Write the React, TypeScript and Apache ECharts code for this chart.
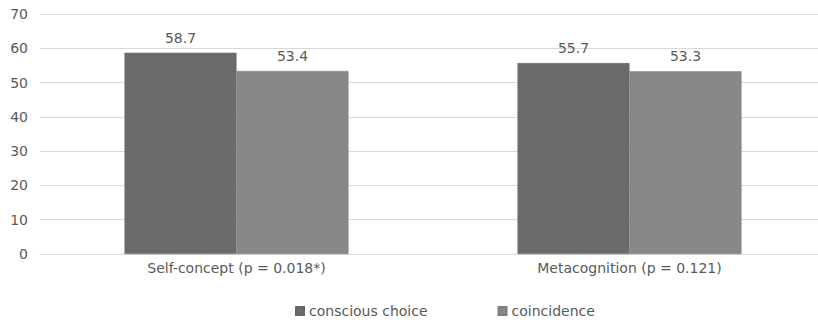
import React, { useEffect, useRef } from "react";
import * as echarts from "echarts";

const categories = ["Self-concept (p = 0.018*)", "Metacognition (p = 0.121)"];
const consciousChoice = [58.7, 55.7];
const coincidence = [53.4, 53.3];
const seriesNames = ["conscious choice", "coincidence"];

const FONT = "'DejaVu Sans', 'Liberation Sans', Arial, sans-serif";
const TEXT = "#595959";

export default function App() {
  const ref = useRef<HTMLDivElement>(null);

  useEffect(() => {
    if (!ref.current) return;
    const chart = echarts.init(ref.current, undefined, { renderer: "svg" });
    const label = {
      show: true,
      position: "top" as const,
      distance: 8,
      color: TEXT,
      fontSize: 14,
      fontFamily: FONT,
      formatter: (p: any) => Number(p.value).toFixed(1),
    };
    chart.setOption({
      animation: false,
      backgroundColor: "#ffffff",
      textStyle: { fontFamily: FONT },
      // the plot runs past the right edge of the visible frame
      grid: { left: 40, top: 14, width: 786, height: 240, containLabel: false },
      legend: {
        data: seriesNames,
        left: 295,
        top: 304,
        padding: 0,
        icon: "rect",
        itemWidth: 8,
        itemHeight: 8,
        itemGap: 70,
        textStyle: { color: TEXT, fontSize: 14, fontFamily: FONT },
      },
      xAxis: {
        type: "category",
        data: categories,
        axisLine: { show: true, lineStyle: { color: "#d9d9d9", width: 1 } },
        axisTick: { show: false },
        axisLabel: { color: TEXT, fontSize: 14, fontFamily: FONT, margin: 7 },
      },
      yAxis: {
        type: "value",
        min: 0,
        max: 70,
        interval: 10,
        axisLine: { show: false },
        axisTick: { show: false },
        axisLabel: { color: TEXT, fontSize: 14, fontFamily: FONT, margin: 12 },
        splitLine: { lineStyle: { color: "#d9d9d9", width: 1 } },
      },
      series: [
        {
          name: seriesNames[0],
          type: "bar",
          data: consciousChoice,
          barGap: "0%",
          barCategoryGap: "43%",
          itemStyle: { color: "#6b6b6b", borderColor: "#666666", borderWidth: 0.5 },
          label,
        },
        {
          name: seriesNames[1],
          type: "bar",
          data: coincidence,
          itemStyle: { color: "#888888", borderColor: "#7f7f7f", borderWidth: 0.5 },
          label,
        },
      ],
    });
    return () => chart.dispose();
  }, []);

  return (
    <div style={{ position: "fixed", left: 0, top: 0, width: 818, height: 320, overflow: "hidden", background: "#fff" }}>
      <div ref={ref} style={{ width: 830, height: 320 }} />
    </div>
  );
}
